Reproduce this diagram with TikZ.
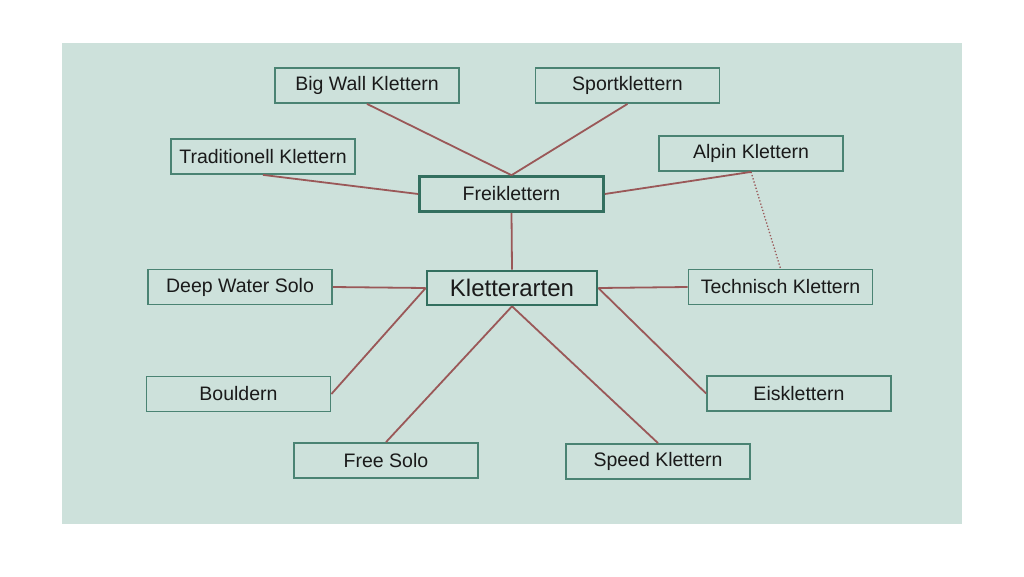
\documentclass[tikz,border=0pt]{standalone}
\usepackage{fontspec}
\setmainfont{Liberation Sans}
\definecolor{bg}{HTML}{CDE1DB}
\definecolor{boxline}{HTML}{4A8373}
\definecolor{boxdark}{HTML}{336F5F}
\definecolor{conn}{HTML}{9A5858}
\definecolor{txt}{HTML}{1A1A1A}
\begin{document}
\begin{tikzpicture}[x=1pt,y=-1pt,
  box/.style={draw=boxline, line width=1.8pt, fill=bg, minimum width=184pt, minimum height=35pt, inner sep=0pt, text=txt, font=\fontsize{19.5}{23}\selectfont},
  mainbox/.style={box, draw=boxdark, line width=2.6pt},
  link/.style={draw=conn, line width=1.8pt},
  dotlink/.style={draw=conn, line width=1.3pt, dotted}]
\useasboundingbox (0,0) rectangle (1024,576);
\fill[bg] (62,43) rectangle (962,524);
% connectors first (behind boxes)
\path
  (367,85.5) node[box] (bw) {Big Wall Klettern}
  (627.5,85.5) node[box] (sport) {Sportklettern}
  (263,156.5) node[box] (trad) {Traditionell Klettern}
  (751,153.5) node[box] (alp) {Alpin Klettern}
  (511.5,194) node[mainbox] (frei) {Freiklettern}
  (512,288) node[mainbox, minimum width=170pt, minimum height=34pt, font=\fontsize{24}{28}\selectfont] (kl) {Kletterarten}
  (780.5,287) node[box] (tech) {Technisch Klettern}
  (240,287) node[box] (deep) {Deep Water Solo}
  (238.5,394) node[box] (boul) {Bouldern}
  (799,393.5) node[box] (eis) {Eisklettern}
  (386,460.5) node[box] (free) {Free Solo}
  (658,461.5) node[box] (speed) {Speed Klettern};
\begin{scope}[on background layer/.try]
\end{scope}
\draw[link] (bw.south) -- (frei.north);
\draw[link] (sport.south) -- (frei.north);
\draw[link] (trad.south) -- (frei.west);
\draw[link] (alp.south) -- (frei.east);
\draw[link] (frei.south) -- (kl.north);
\draw[dotlink] (alp.south) -- (tech.north);
\draw[link] (deep.east) -- (kl.west);
\draw[link] (boul.east) -- (kl.west);
\draw[link] (free.north) -- (kl.south);
\draw[link] (speed.north) -- (kl.south);
\draw[link] (tech.west) -- (kl.east);
\draw[link] (eis.west) -- (kl.east);
\end{tikzpicture}
\end{document}
